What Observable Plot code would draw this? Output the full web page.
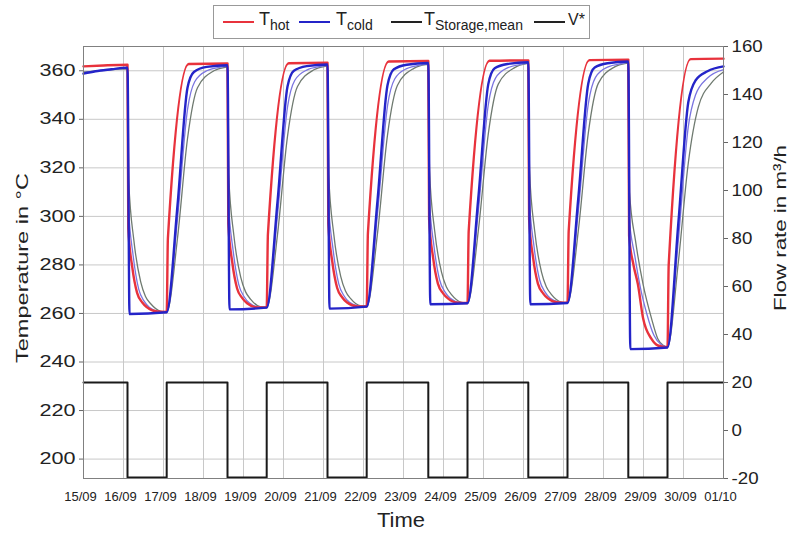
<!DOCTYPE html>
<html><head><meta charset="utf-8">
<script src="https://cdn.jsdelivr.net/npm/d3@7"></script>
<script src="https://cdn.jsdelivr.net/npm/@observablehq/plot@0.6"></script>
<style>
body{margin:0;background:#fff;font-family:"Liberation Sans",Arial,sans-serif;}
#legend{position:relative;width:795px;height:40px;}
#legbox{position:absolute;left:213px;top:5px;width:377px;height:34px;border:1px solid #999;box-sizing:border-box;}
.sw{position:absolute;top:15px;height:0;border-top:2px solid;width:31px;}
.lab{position:absolute;top:3px;font-size:18px;color:#222;white-space:nowrap;line-height:21px;}
.lab sub{font-size:14px;vertical-align:baseline;position:relative;top:5px;}
</style></head>
<body>
<div id="legend"><div id="legbox">
  <div class="sw" style="left:9px;border-color:#e8323c"></div><div class="lab" style="left:45px">T<sub>hot</sub></div>
  <div class="sw" style="left:85px;border-color:#2424c8"></div><div class="lab" style="left:122px">T<sub>cold</sub></div>
  <div class="sw" style="left:177px;border-color:#222"></div><div class="lab" style="left:210px">T<sub>Storage,mean</sub></div>
  <div class="sw" style="left:320px;border-color:#222"></div><div class="lab" style="left:354px;font-size:16px">V*</div>
</div></div>
<div id="chart"></div>
<script>
const dateLabels = ["15/09","16/09","17/09","18/09","19/09","20/09","21/09","22/09","23/09","24/09","25/09","26/09","27/09","28/09","29/09","30/09","01/10"];
const tempTicks = [200,220,240,260,280,300,320,340,360];
const flowTicks = [-20,0,20,40,60,80,100,120,140,160];

// T_hot [day, °C]
const hotPts = [
 [0,361.8],[0.5,362.2],[1.1,362.5],
 [1.12,295],[1.22,279],[1.34,268.5],[1.47,264.5],[1.59,262.5],[1.84,260.8],[2.08,260.6],
 [2.11,291],[2.63,362.8],[3.6,363.0],
 [3.62,297],[3.72,281],[3.84,270.3],[3.97,266.3],[4.09,264.2],[4.34,262.5],[4.58,262.5],
 [4.61,292.5],[5.13,363.1],[6.1,363.3],
 [6.12,297],[6.22,281.3],[6.34,270.6],[6.47,266.6],[6.59,264.5],[6.84,262.9],[7.08,262.9],
 [7.11,293],[7.63,363.8],[8.62,364.0],
 [8.64,299],[8.74,283],[8.86,272.3],[8.99,268.3],[9.11,266.2],[9.36,264.4],[9.6,264.3],
 [9.63,294],[10.15,364.1],[11.12,364.3],
 [11.14,299],[11.24,283],[11.36,272.3],[11.49,268.3],[11.61,266.2],[11.86,264.5],[12.1,264.4],
 [12.13,294],[12.65,364.4],[13.62,364.6],
 [13.64,292],[13.75,280],[13.86,272],[13.99,258],[14.2,249.5],[14.36,246.8],[14.6,246.1],
 [14.63,280],[15.18,364.8],[16,365.0]
];
// T_cold
const coldPts = [
 [0,358.8],[0.3,359.8],[0.7,360.6],[1.1,361.3],
 [1.15,259.8],[2.08,260.5],
 [2.35,304.5],[2.6,353],[2.76,359.5],[3.08,361.6],[3.6,362.3],
 [3.65,261.7],[4.58,262.4],
 [4.85,306],[5.1,353.5],[5.26,360],[5.58,361.9],[6.1,362.6],
 [6.15,262.0],[7.08,262.8],
 [7.35,306.5],[7.6,354],[7.76,360.6],[8.08,362.5],[8.62,363.2],
 [8.67,263.8],[9.6,264.2],
 [9.87,307.5],[10.12,354.5],[10.28,361],[10.6,362.8],[11.12,363.5],
 [11.17,263.8],[12.1,264.3],
 [12.37,307.5],[12.62,354.8],[12.78,361.3],[13.1,363.1],[13.62,363.8],
 [13.67,245.3],[14.6,246.0],
 [14.87,297],[15.12,347],[15.3,356],[15.6,359.8],[16,361.8]
];
// storage (thin blue)
const storageUpperPts = [
 [0,359.2],[0.5,360.2],[1.1,361.0],
 [1.12,305],[1.24,284],[1.38,270],[1.52,265],[1.65,262.5],[1.9,260.8],[2.08,260.6],
 [2.35,299],[2.6,344],[2.78,355.5],[3.08,360],[3.5,361.7],[3.6,362.0],
 [3.62,307],[3.74,286],[3.88,272],[4.02,266.8],[4.15,264.3],[4.4,262.6],[4.58,262.5],
 [4.85,300.5],[5.1,345],[5.28,356],[5.58,360.3],[6.0,362],[6.1,362.4],
 [6.12,307],[6.24,286.3],[6.38,272.3],[6.52,267.1],[6.65,264.6],[6.9,263.0],[7.08,262.9],
 [7.35,301],[7.6,345.5],[7.78,356.6],[8.08,360.9],[8.5,362.6],[8.62,363.0],
 [8.64,309],[8.76,288],[8.9,274],[9.04,268.8],[9.17,266.3],[9.42,264.5],[9.6,264.3],
 [9.87,302],[10.12,346],[10.3,357],[10.6,361.2],[11.02,362.9],[11.12,363.3],
 [11.14,309],[11.26,288],[11.4,274],[11.54,268.8],[11.67,266.3],[11.92,264.6],[12.1,264.4],
 [12.37,302],[12.62,346.3],[12.8,357.3],[13.1,361.5],[13.52,363.2],[13.62,363.6],
 [13.64,300],[13.78,284],[13.93,270],[14.08,260],[14.26,251],[14.44,247.2],[14.6,246.2],
 [14.87,290],[15.12,337],[15.3,350],[15.6,357],[16,360.5]
];
// T_Storage,mean (grey)
const storageMeanPts = [
 [0,359.5],[0.5,360.2],[1.1,360.8],
 [1.13,315],[1.26,290],[1.43,273],[1.55,267],[1.68,264],[1.93,260.9],[2.08,260.6],
 [2.35,291],[2.6,332],[2.85,353],[3.26,360],[3.56,361.5],[3.6,361.6],
 [3.63,317],[3.76,292],[3.93,275],[4.05,269],[4.18,265.8],[4.43,262.7],[4.58,262.5],
 [4.85,292.5],[5.1,333],[5.35,353.5],[5.76,360.4],[6.06,361.9],[6.1,362.0],
 [6.13,317],[6.26,292.3],[6.43,275.3],[6.55,269.3],[6.68,266.1],[6.93,263.1],[7.08,262.9],
 [7.35,293],[7.6,333.5],[7.85,354],[8.26,361],[8.56,362.5],[8.62,362.6],
 [8.65,319],[8.78,294],[8.95,277],[9.07,271],[9.2,267.8],[9.45,264.6],[9.6,264.3],
 [9.87,294],[10.12,334],[10.37,354.5],[10.78,361.3],[11.08,362.9],[11.12,363.0],
 [11.15,319],[11.28,294],[11.45,277],[11.57,271],[11.7,267.8],[11.95,264.7],[12.1,264.4],
 [12.37,294],[12.62,334.3],[12.87,354.8],[13.28,361.6],[13.58,363.1],[13.62,363.2],
 [13.65,310],[13.8,290],[13.99,272],[14.2,258],[14.36,249.5],[14.5,246.8],[14.6,246.2],
 [14.87,281],[15.12,322],[15.37,345],[15.7,355],[16,359.5]
];
// V* flow rate, m3/h (step changes)
const vTimes  = [0,1.1,2.08,3.6,4.58,6.1,7.08,8.62,9.6,11.12,12.1,13.62,14.6,16];
const vValues = [20,-19.6,20,-19.6,20,-19.6,20,-19.6,20,-19.6,20,-19.6,20,20];

const tDomain = [192, 370];
const fDomain = [-20, 160];
const toT = d3.scaleLinear().domain(fDomain).range(tDomain);
const vData = vTimes.map((t, i) => ({t, v: toT(vValues[i])}));

const RED = "#e8323c", BLUE = "#2424c8", THIN = "#7a74e0", GREY = "#6f7a70";
const px = d => d[0], py = d => d[1];

const chart = Plot.plot({
  width: 795, height: 495,
  marginLeft: 83, marginRight: 72, marginTop: 6, marginBottom: 57,
  style: {fontFamily: "Liberation Sans, Arial, sans-serif", background: "white", color: "#222", display: "block", overflow: "visible"},
  x: {domain: [0, 16]},
  y: {domain: tDomain},
  marks: [
    Plot.gridX(d3.range(17), {stroke: "#c8c8c8", strokeOpacity: 1, strokeWidth: 1}),
    Plot.gridY(tempTicks, {stroke: "#c8c8c8", strokeOpacity: 1, strokeWidth: 1}),
    Plot.line(storageMeanPts, {x: px, y: py, stroke: GREY, strokeWidth: 1.3, curve: "monotone-x"}),
    Plot.line(storageUpperPts, {x: px, y: py, stroke: THIN, strokeWidth: 1.3, curve: "monotone-x"}),
    Plot.line(hotPts, {x: px, y: py, stroke: RED, strokeWidth: 2.4, curve: "monotone-x"}),
    Plot.line(coldPts, {x: px, y: py, stroke: BLUE, strokeWidth: 2.4, curve: "monotone-x"}),
    Plot.line(vData, {x: "t", y: "v", stroke: "#1a1a1a", strokeWidth: 2, curve: "step-after"}),
    Plot.frame({stroke: "#808080"}),
    Plot.axisY(tempTicks, {anchor: "left", tickSize: 4, tickPadding: 4, fontSize: 16, label: null, stroke: "#666", tickFormat: d => String(d)}),
    Plot.axisY(flowTicks.map(v => toT(v)), {anchor: "right", tickSize: 4, tickPadding: 4, fontSize: 17, label: null, stroke: "#666", tickFormat: t => String(Math.round(toT.invert(t)) + 0)}),
    Plot.axisX(d3.range(17), {anchor: "bottom", tickSize: 0, tickPadding: 13, fontSize: 13, label: null, tickFormat: i => dateLabels[i], dx: -3}),
    Plot.text(["Temperature in °C"], {text: d => d, frameAnchor: "left", rotate: -90, fontSize: 17, fill: "#222"}),
    Plot.text(["Flow rate in m³/h"], {text: d => d, frameAnchor: "right", rotate: -90, fontSize: 17, fill: "#222"}),
    Plot.text(["Time"], {text: d => d, frameAnchor: "bottom", fontSize: 20, fill: "#222"})
  ]
});
document.getElementById("chart").append(chart);

// stretch glyphs horizontally, as in the reference, then centre the titles where they sit in the reference
function stretchTo(el, len) {
  el.setAttribute("textLength", len);
  el.setAttribute("lengthAdjust", "spacingAndGlyphs");
}
function centreAt(el, cx, cy) {
  const r = el.getBoundingClientRect();
  const ddx = cx - (r.left + r.width / 2), ddy = cy - (r.top + r.height / 2);
  el.setAttribute("transform", `translate(${ddx},${ddy}) ` + (el.getAttribute("transform") || ""));
}
chart.querySelectorAll("text").forEach(el => {
  const s = el.textContent;
  if (s === "Temperature in °C") { stretchTo(el, 190); centreAt(el, 22, 268); }
  else if (s === "Flow rate in m³/h") { stretchTo(el, 166); centreAt(el, 780, 228); }
  else if (s === "Time") { stretchTo(el, 48); centreAt(el, 401, 520); }
});
chart.querySelectorAll('g[aria-label="y-axis tick label"]').forEach(g => {
  const left = g.getAttribute("text-anchor") === "end";
  g.querySelectorAll("text").forEach(el => stretchTo(el, el.getComputedTextLength() * (left ? 1.35 : 1.1)));
});
</script>
</body></html>
